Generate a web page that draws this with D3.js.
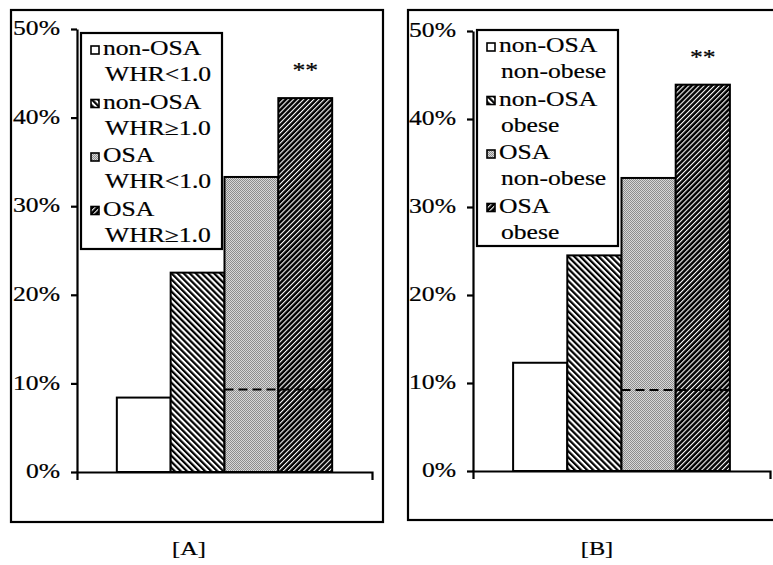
<!DOCTYPE html>
<html>
<head>
<meta charset="utf-8">
<script src="https://cdn.jsdelivr.net/npm/d3@7"></script>
<style>
  body { margin: 0; background: #fff; }
  svg { display: block; }
</style>
</head>
<body>
<div id="chart"></div>
<script>
// data (percent)
var yTicks = [0, 10, 20, 30, 40, 50];
var labelsA = ["non-OSA WHR<1.0", "non-OSA WHR≥1.0", "OSA WHR<1.0", "OSA WHR≥1.0"];
var labelsB = ["non-OSA non-obese", "non-OSA obese", "OSA non-obese", "OSA obese"];
var valuesA = [8.4, 22.5, 33.3, 42.2];
var valuesB = [12.3, 24.5, 33.3, 43.9];
var refA = 9.3, refB = 9.2;
var captions = ["[A]", "[B]"];
var signif = "**";

var width = 773, height = 565;
var font = "'Liberation Serif', 'Times New Roman', serif";

var svg = d3.select("#chart")
  .append("svg")
    .attr("width", width)
    .attr("height", height);

// fill patterns, one per bar
var defs = svg.append("defs");

var p0 = defs.append("pattern").attr("id", "pat0")
  .attr("patternUnits", "userSpaceOnUse").attr("width", 4).attr("height", 4);
p0.append("rect").attr("width", 4).attr("height", 4).attr("fill", "#fff");

var p1 = defs.append("pattern").attr("id", "pat1")
  .attr("patternUnits", "userSpaceOnUse").attr("width", 4.3).attr("height", 10)
  .attr("patternTransform", "rotate(-45)");
p1.append("rect").attr("width", 4.3).attr("height", 10).attr("fill", "#fff");
p1.append("rect").attr("width", 2.2).attr("height", 10).attr("fill", "#000");

var p2 = defs.append("pattern").attr("id", "pat2")
  .attr("patternUnits", "userSpaceOnUse").attr("width", 2).attr("height", 2);
p2.append("rect").attr("width", 2).attr("height", 2).attr("fill", "#d8d8d8");
p2.append("rect").attr("width", 1).attr("height", 1).attr("fill", "#8e8e8e");
p2.append("rect").attr("x", 1).attr("y", 1).attr("width", 1).attr("height", 1).attr("fill", "#8e8e8e");

var p3 = defs.append("pattern").attr("id", "pat3")
  .attr("patternUnits", "userSpaceOnUse").attr("width", 3.6).attr("height", 10)
  .attr("patternTransform", "rotate(45)");
p3.append("rect").attr("width", 3.6).attr("height", 10).attr("fill", "#000");
p3.append("rect").attr("width", 1.1).attr("height", 10).attr("fill", "#fff");

var panels = [
  {frame: [11, 10, 372, 512], x0: 77, x1: 372, y0: 472, y1: 29,
   legend: [81, 33], values: valuesA, labels: labelsA, ref: refA, caption: captions[0], capX: 189},
  {frame: [408, 10, 420, 510], x0: 473, x1: 770, y0: 471, y1: 31,
   legend: [477, 30], values: valuesB, labels: labelsB, ref: refB, caption: captions[1], capX: 597}
];

panels.forEach(function(p) {
  var g = svg.append("g");

  // outer frame
  g.append("rect")
    .attr("x", p.frame[0]).attr("y", p.frame[1])
    .attr("width", p.frame[2]).attr("height", p.frame[3])
    .attr("fill", "none").attr("stroke", "#000").attr("stroke-width", 2.2);

  var y = d3.scaleLinear().domain([0, 50]).range([p.y0, p.y1]);
  var x = d3.scaleBand()
    .domain(d3.range(p.values.length))
    .range([p.x0, p.x1])
    .paddingInner(0)
    .paddingOuter(0.74);

  // bars
  g.selectAll("rect.bar")
    .data(p.values)
    .enter()
    .append("rect")
      .attr("class", "bar")
      .attr("x", function(d, i) { return x(i); })
      .attr("y", function(d) { return y(d); })
      .attr("width", x.bandwidth())
      .attr("height", function(d) { return y(0) - y(d); })
      .attr("fill", function(d, i) { return "url(#pat" + i + ")"; })
      .attr("stroke", "#000")
      .attr("stroke-width", 2);

  // dashed reference line over the OSA bars
  g.append("line")
    .attr("x1", x(2)).attr("x2", x(3) + x.bandwidth())
    .attr("y1", y(p.ref)).attr("y2", y(p.ref))
    .attr("stroke", "#000").attr("stroke-width", 2)
    .attr("stroke-dasharray", "9,5");

  // significance mark
  g.append("text")
    .attr("x", x(3) + x.bandwidth() / 2)
    .attr("y", y(p.values[3]) - 21)
    .attr("text-anchor", "middle")
    .attr("font-family", font).attr("font-size", 20)
    .text(signif);

  // Y axis
  var ya = g.append("g")
    .attr("transform", "translate(" + p.x0 + ",0)")
    .call(d3.axisLeft(y).tickValues(yTicks)
      .tickFormat(function(d) { return d + "%"; })
      .tickSizeInner(6).tickSizeOuter(0).tickPadding(11));
  ya.selectAll("path, line").attr("stroke-width", 2.2);
  ya.selectAll("text")
    .attr("font-family", font).attr("font-size", 20)
    .attr("dy", "0.28em").attr("fill", "#000");

  // X axis: plain line with end ticks
  var xa = g.append("g")
    .attr("transform", "translate(0," + p.y0 + ")")
    .call(d3.axisBottom(x).tickSizeInner(0).tickSizeOuter(8).tickFormat(""));
  xa.selectAll(".tick").remove();
  xa.select("path").attr("stroke-width", 2.2);

  // legend
  var lx = p.legend[0], ly = p.legend[1];
  g.append("rect")
    .attr("x", lx).attr("y", ly).attr("width", 141).attr("height", 216)
    .attr("fill", "#fff").attr("stroke", "#000").attr("stroke-width", 2.2);

  var items = g.selectAll("g.item")
    .data(p.labels)
    .enter()
    .append("g")
      .attr("class", "item")
      .attr("transform", function(d, i) { return "translate(" + lx + "," + (ly + 22 + i * 53.5) + ")"; });
  items.append("rect")
    .attr("x", 10).attr("y", -9).attr("width", 8).attr("height", 8)
    .attr("fill", function(d, i) { return "url(#pat" + i + ")"; })
    .attr("stroke", "#000").attr("stroke-width", 1.6);
  items.append("text")
    .attr("x", 22).attr("y", 0)
    .attr("font-family", font).attr("font-size", 20)
    .text(function(d) { return d.split(" ")[0]; });
  items.append("text")
    .attr("x", 24).attr("y", 26)
    .attr("font-family", font).attr("font-size", 20)
    .text(function(d) { return d.split(" ")[1]; });

  // panel caption
  svg.append("text")
    .attr("x", p.capX).attr("y", 555)
    .attr("text-anchor", "middle")
    .attr("font-family", font).attr("font-size", 19)
    .text(p.caption);
});

// the scanned type is wider and a little heavier than the font, so stretch every label
svg.selectAll("text").each(function() {
  var len = this.getComputedTextLength();
  if (len > 0) {
    d3.select(this)
      .attr("textLength", len * 1.28)
      .attr("lengthAdjust", "spacingAndGlyphs")
      .attr("stroke", "#000")
      .attr("stroke-width", 0.2);
  }
});
</script>
</body>
</html>
